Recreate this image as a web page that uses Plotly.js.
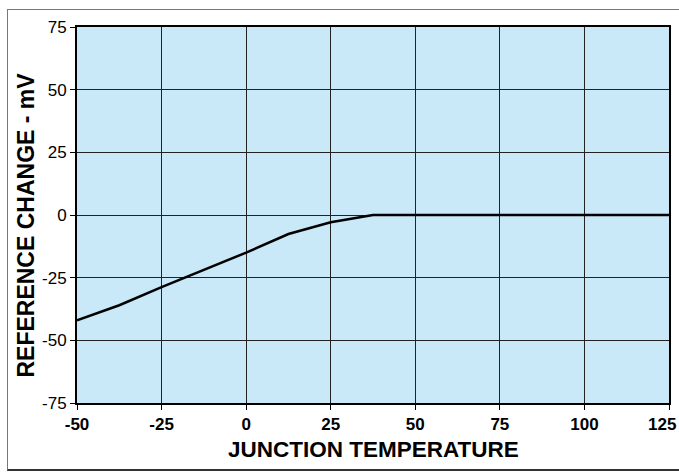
<!DOCTYPE html>
<html>
<head>
<meta charset="utf-8">
<script src="https://cdn.plot.ly/plotly-3.0.1.min.js"></script>
<style>
html,body{margin:0;padding:0;background:#fff;}
#frame{position:absolute;left:7px;top:9px;width:700px;height:462px;border:1.5px solid #777;border-bottom:2px solid #333;box-sizing:border-box;}
#chart{position:absolute;left:0;top:0;width:679px;height:473px;}
</style>
</head>
<body>
<div id="frame"></div>
<div id="chart"></div>
<script>
const temperature = [-50, -37.5, -25, 0, 12.5, 25, 37.5, 125];
const refChange = [-42, -36, -28.8, -15, -7.6, -2.9, 0, 0];
const xTicks = [-50, -25, 0, 25, 50, 75, 100, 125];
const xTickText = ['-50', '-25', '0', '25', '50', '75', '100', ''];
const lastTick = 125;
const lastTickText = '125';
const yTicks = [-75, -50, -25, 0, 25, 50, 75];
const xTitle = 'JUNCTION TEMPERATURE';
const yTitle = 'REFERENCE CHANGE - mV';

const FONT = 'Liberation Sans, Arial, sans-serif';
const trace = {
  x: temperature, y: refChange, mode: 'lines', type: 'scatter',
  line: {color: '#000', width: 2.5}, hoverinfo: 'skip'
};
const layout = {
  width: 679, height: 473,
  margin: {l: 77, r: 10, t: 27, b: 70},
  paper_bgcolor: 'rgba(0,0,0,0)',
  plot_bgcolor: '#c9e8f8',
  showlegend: false,
  font: {family: FONT, color: '#000'},
  xaxis: {
    range: [-50, 125], tickvals: xTicks, ticktext: xTickText,
    showgrid: true, gridcolor: '#222', gridwidth: 1,
    zeroline: false, showline: true, linecolor: '#000', linewidth: 2, mirror: true,
    ticks: 'outside', ticklen: 5, tickcolor: '#000', tickwidth: 1,
    ticklabeloverflow: 'allow',
    tickfont: {size: 17, family: FONT, weight: 'bold'}
  },
  yaxis: {
    range: [-75, 75], tickvals: yTicks, ticktext: yTicks.map(String),
    showgrid: true, gridcolor: '#222', gridwidth: 1,
    zeroline: false, showline: true, linecolor: '#000', linewidth: 2, mirror: true,
    ticks: 'outside', ticklen: 5, tickcolor: '#000', tickwidth: 1,
    ticklabeloverflow: 'allow',
    tickfont: {size: 17, family: FONT}
  },
  annotations: [
    {text: '<b>' + lastTickText + '</b>', xref: 'x', yref: 'paper', x: lastTick, y: 0,
     xanchor: 'right', yanchor: 'middle', xshift: 8, yshift: -21, showarrow: false,
     borderpad: 0, font: {size: 17, family: FONT, color: '#000'}},
    {text: '<b>' + xTitle + '</b>', xref: 'paper', yref: 'paper', x: 0.5, y: 0,
     xanchor: 'center', yanchor: 'middle', yshift: -46, showarrow: false,
     font: {size: 22.5, family: FONT, color: '#000'}},
    {text: '<b>' + yTitle + '</b>', xref: 'paper', yref: 'paper', x: 0, y: 0.472,
     xanchor: 'center', yanchor: 'middle', xshift: -51, textangle: -90, showarrow: false,
     font: {size: 23, family: FONT, color: '#000'}}
  ]
};
Plotly.newPlot('chart', [trace], layout, {staticPlot: true, displayModeBar: false});
</script>
</body>
</html>
